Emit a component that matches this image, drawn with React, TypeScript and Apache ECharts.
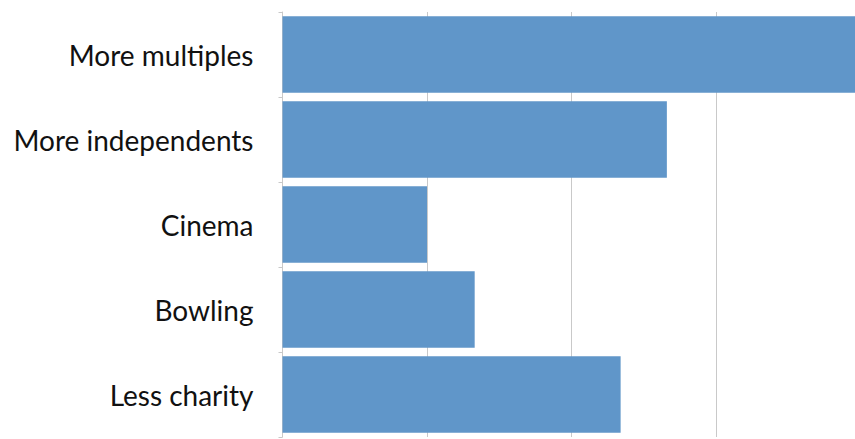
import React, { useEffect, useRef } from "react";
import * as echarts from "echarts";

const categories = ["More multiples", "More independents", "Cinema", "Bowling", "Less charity"];
const values = [4.0, 2.66, 1.0, 1.33, 2.34];
const axisMax = 3.962;

export default function App() {
  const ref = useRef<HTMLDivElement>(null);

  useEffect(() => {
    if (!ref.current) return;
    const chart = echarts.init(ref.current, null, { renderer: "svg" });
    chart.setOption({
      animation: false,
      grid: { left: 282.5, right: 0, top: 12, bottom: 2, containLabel: false },
      xAxis: {
        type: "value",
        min: 0,
        max: axisMax,
        interval: 1,
        axisLabel: { show: false },
        axisLine: { show: false },
        axisTick: { show: false },
        splitLine: { show: true, lineStyle: { color: "#c9c9c9", width: 1 } },
      },
      yAxis: {
        type: "category",
        data: categories,
        inverse: true,
        axisLine: { show: true, lineStyle: { color: "#c9c9c9", width: 1 } },
        axisTick: { show: true, length: 4, lineStyle: { color: "#c9c9c9" } },
        axisLabel: {
          margin: 29,
          fontFamily: "Lato",
          fontSize: 28,
          color: "#111111",
        },
      },
      series: [
        {
          type: "bar",
          data: values,
          barCategoryGap: "10%",
          clip: true,
          itemStyle: { color: "#6096c9" },
        },
      ],
    });
    return () => chart.dispose();
  }, []);

  return (
    <div
      ref={ref}
      style={{ position: "fixed", left: 0, top: 0, width: 855, height: 439, background: "#ffffff" }}
    />
  );
}
